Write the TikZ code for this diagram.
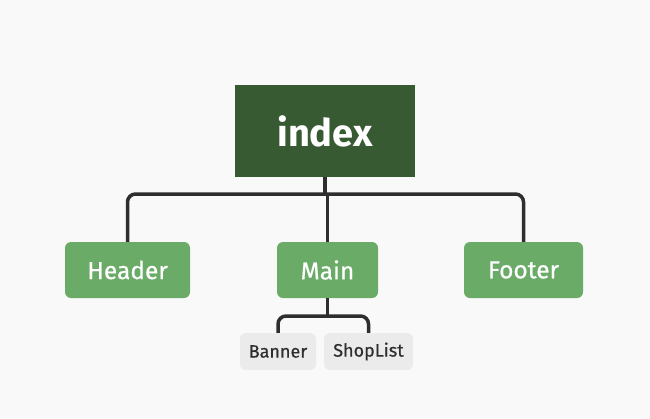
\documentclass[tikz,border=0pt]{standalone}
\usepackage{fontspec}
\setmainfont{Fira Sans}
\newfontfamily\medfont[FakeBold=0.6]{Fira Sans}
\definecolor{bg}{HTML}{F9F9F9}
\definecolor{dkgreen}{HTML}{385A33}
\definecolor{ltgreen}{HTML}{6AAC67}
\definecolor{chip}{HTML}{EBEBEB}
\definecolor{ink}{HTML}{2E2E2E}
\begin{document}
\begin{tikzpicture}[x=1pt,y=-1pt,
  rootbox/.style={fill=dkgreen,text=white,minimum width=180pt,minimum height=92pt,inner sep=0pt,font=\fontsize{38}{44}\selectfont\bfseries},
  midbox/.style={fill=ltgreen,text=white,rounded corners=6pt,minimum height=56pt,inner sep=0pt,font=\medfont\fontsize{24.5}{28}\selectfont},
  leafbox/.style={fill=chip,text=ink,rounded corners=6pt,minimum height=37pt,inner sep=0pt,font=\medfont\fontsize{18}{21}\selectfont},
  conn/.style={draw=ink,line width=3.5pt,rounded corners=8pt}]
\fill[bg] (0,0) rectangle (650,418);
\useasboundingbox (0,0) rectangle (650,418);
\node[rootbox] (index) at (325,131) {index};
\node[midbox,minimum width=125pt] (header) at (127.5,270) {Header};
\node[midbox,minimum width=101pt] (main) at (327.5,270) {Main};
\node[midbox,minimum width=119pt] (footer) at (523.5,270) {Footer};
\node[leafbox,minimum width=76pt] (banner) at (278,351.5) {Banner};
\node[leafbox,minimum width=89pt] (shop) at (368.5,351.5) {ShopList};
\coordinate (bus) at (325,194);
\coordinate (sub) at (327.5,316);
\draw[conn] (index.south) -- (bus);
\draw[conn] (header.north) |- (bus) -| (footer.north);
\draw[conn] (main.north) -- (main.north |- bus);
\draw[conn] (main.south) -- (sub);
\draw[conn] (banner.north) |- (sub) -| (shop.north);
\end{tikzpicture}
\end{document}
